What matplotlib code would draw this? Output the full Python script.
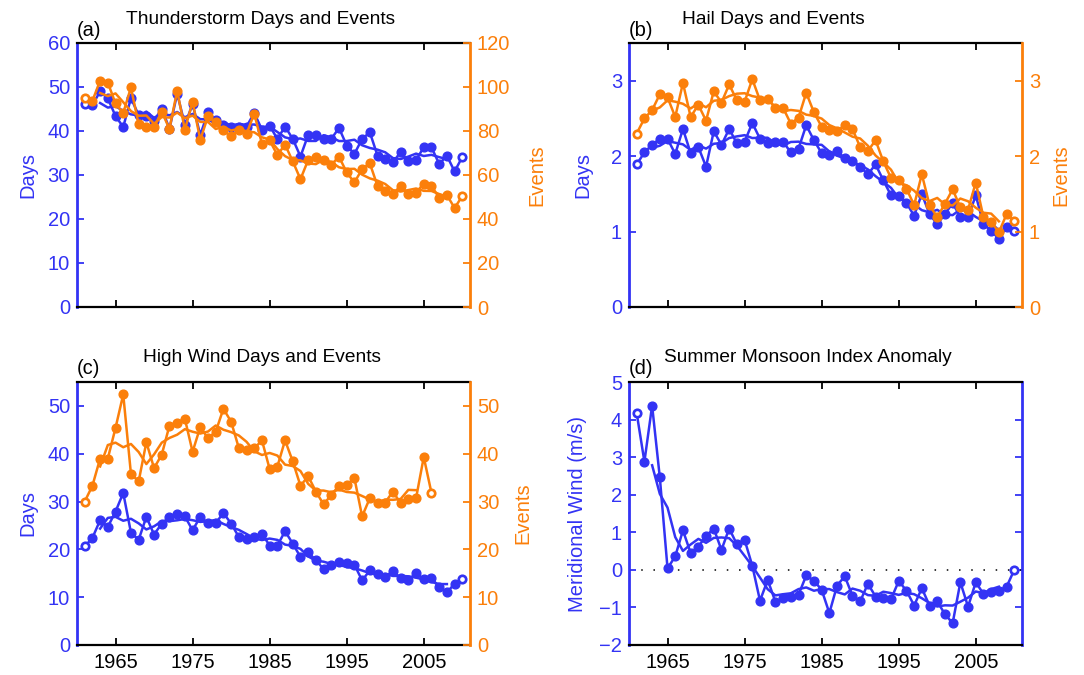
import numpy as np
import pandas as pd
import matplotlib
matplotlib.use('Agg')
import matplotlib.pyplot as plt

plt.rcParams['font.family'] = ['Liberation Sans', 'DejaVu Sans']

# ---------------- data ----------------
years = list(range(1961, 2011))
xticks = [1965, 1975, 1985, 1995, 2005]

thunder_days = [46.1, 45.9, 49.0, 47.4, 43.4, 40.9, 47.5, 43.6, 43.5, 42.3,
                45.1, 40.5, 48.5, 41.4, 46.1, 39.1, 44.3, 42.5, 41.3, 40.8,
                40.8, 41.0, 44.1, 40.3, 41.2, 38.2, 41.0, 38.2, 34.2, 39.1,
                39.0, 38.2, 38.2, 40.7, 36.7, 34.8, 38.2, 39.7, 34.4, 33.6,
                32.9, 35.2, 33.1, 33.4, 36.3, 36.3, 32.5, 34.4, 30.8, 34.1]
thunder_events = [95.2, 93.7, 102.9, 102.0, 92.5, 88.2, 99.8, 83.0, 81.8, 81.9,
                  88.7, 81.0, 98.3, 80.6, 93.3, 76.0, 86.7, 84.1, 80.3, 77.5,
                  80.6, 78.7, 87.9, 74.2, 75.7, 69.1, 73.8, 66.2, 58.1, 66.8,
                  68.3, 66.8, 64.7, 68.3, 61.2, 56.6, 62.7, 65.3, 55.0, 52.7,
                  51.5, 55.0, 51.2, 52.0, 56.1, 55.0, 49.7, 50.9, 45.0, 50.4]

hail_days = [1.89, 2.05, 2.15, 2.23, 2.23, 2.03, 2.36, 2.04, 2.12, 1.86,
             2.33, 2.15, 2.36, 2.17, 2.19, 2.44, 2.23, 2.17, 2.19, 2.19,
             2.05, 2.10, 2.41, 2.21, 2.04, 2.02, 2.07, 1.97, 1.93, 1.86,
             1.76, 1.89, 1.68, 1.48, 1.47, 1.38, 1.21, 1.50, 1.23, 1.10,
             1.23, 1.38, 1.19, 1.19, 1.48, 1.10, 1.01, 0.905, 1.06, 1.01]
hail_events = [2.30, 2.50, 2.61, 2.82, 2.78, 2.52, 2.97, 2.52, 2.68, 2.47,
               2.86, 2.71, 2.95, 2.74, 2.72, 3.02, 2.74, 2.76, 2.64, 2.64,
               2.43, 2.51, 2.84, 2.58, 2.39, 2.35, 2.33, 2.41, 2.36, 2.12,
               2.07, 2.21, 1.93, 1.71, 1.68, 1.57, 1.35, 1.76, 1.35, 1.19,
               1.37, 1.56, 1.32, 1.29, 1.65, 1.19, 1.13, 0.99, 1.23, 1.14]

wind_days = [20.6, 22.4, 26.1, 24.7, 27.9, 31.8, 23.5, 22.0, 26.8, 23.1,
             25.4, 26.8, 27.3, 26.9, 24.0, 26.8, 25.5, 25.5, 27.6, 25.4,
             22.6, 22.2, 22.6, 23.3, 20.8, 20.8, 23.8, 21.2, 18.4, 19.4,
             17.7, 15.9, 16.8, 17.3, 17.1, 16.8, 13.5, 15.6, 14.9, 14.3,
             15.4, 14.0, 13.6, 15.0, 13.8, 14.0, 12.1, 11.0, 12.8, 13.8]
wind_events = [30.0, 33.3, 39.0, 39.0, 45.4, 52.4, 35.8, 34.2, 42.4, 37.0,
               39.8, 45.9, 46.5, 47.3, 40.4, 45.6, 43.2, 44.6, 49.4, 46.7,
               41.2, 40.7, 41.1, 42.8, 36.8, 37.3, 42.8, 38.4, 33.3, 35.3,
               32.1, 29.4, 31.4, 33.3, 33.5, 34.9, 26.9, 30.7, 29.8, 29.8,
               32.1, 29.6, 30.5, 30.7, 39.3, 31.8, np.nan, np.nan, np.nan, np.nan]

monsoon_anom = [4.17, 2.88, 4.37, 2.46, 0.04, 0.36, 1.05, 0.45, 0.62, 0.90,
                1.10, 0.53, 1.10, 0.68, 0.80, 0.11, -0.82, -0.27, -0.85, -0.75,
                -0.71, -0.66, -0.15, -0.29, -0.53, -1.15, -0.42, -0.17, -0.69, -0.84,
                -0.37, -0.71, -0.75, -0.78, -0.30, -0.55, -0.95, -0.49, -0.95, -0.84,
                -1.18, -1.42, -0.33, -0.98, -0.33, -0.64, -0.60, -0.55, -0.45, 0.0]

# ---------------- style ----------------
BLUE = '#3333f4'
ORANGE = '#fb7f0a'
FS = 14.5
W, H = 1084, 675

fig = plt.figure(figsize=(W / 100, H / 100), dpi=100)


def px_axes(l, t, r, b):
    return fig.add_axes([l / W, 1 - b / H, (r - l) / W, (b - t) / H])


def running_mean(vals):
    return pd.Series(vals, dtype=float).rolling(5, center=True).mean().values


def draw_series(ax, vals, color):
    x = np.array(years, dtype=float)
    y = np.array(vals, dtype=float)
    ok = ~np.isnan(y)
    ax.plot(x[ok], y[ok], '-', color=color, lw=1.8, marker='o', ms=6.3,
            mfc=color, mec=color, zorder=3, clip_on=False)
    idx = np.where(ok)[0]
    ends = [idx[0], idx[-1]]
    ax.plot(x[ends], y[ends], 'o', ms=4.8, mfc='white', mec=color, mew=1.4,
            zorder=4, clip_on=False)
    ax.plot(x, running_mean(vals), '-', color=color, lw=1.8, zorder=3)


def base_style(ax, left_color, show_xlabels):
    ax.set_xlim(1960, 2011)
    ax.set_xticks(xticks)
    ax.tick_params(axis='x', direction='in', top=True, bottom=True, length=5,
                   width=1.3, labelsize=FS, pad=6, colors='black')
    if not show_xlabels:
        ax.set_xticklabels([])
    for s in ('top', 'bottom'):
        ax.spines[s].set_linewidth(1.6)
        ax.spines[s].set_color('black')
    ax.spines['left'].set_color(left_color)
    ax.spines['left'].set_linewidth(2.0)
    ax.tick_params(axis='y', direction='in', colors=left_color, labelsize=FS,
                   length=5, width=1.3, pad=5)


def twin_style(ax, ax2, ylim, yticks, label_x):
    ax.spines['right'].set_visible(False)
    for s in ('top', 'bottom', 'left'):
        ax2.spines[s].set_visible(False)
    ax2.spines['right'].set_color(ORANGE)
    ax2.spines['right'].set_linewidth(2.0)
    ax2.set_ylim(*ylim)
    ax2.set_yticks(yticks)
    ax2.tick_params(axis='y', direction='in', colors=ORANGE, labelsize=FS,
                    length=5, width=1.3, pad=5)
    ax2.set_ylabel('Events', color=ORANGE, fontsize=FS)
    ax2.yaxis.set_label_coords(label_x, 0.5)


def panel_text(letter, title, lx, ly, tx, ty):
    fig.text(lx / W, 1 - ly / H, letter, fontsize=FS, ha='left', va='center')
    fig.text(tx / W, 1 - ty / H, title, fontsize=13.8, ha='left', va='center')


# (a) Thunderstorm
axa = px_axes(77, 43, 470, 307)
base_style(axa, BLUE, False)
axa.set_ylim(0, 60)
axa.set_yticks(range(0, 61, 10))
axa.set_ylabel('Days', color=BLUE, fontsize=FS)
axa.yaxis.set_label_coords(-0.10, 0.5)
axa2 = axa.twinx()
twin_style(axa, axa2, (0, 120), range(0, 121, 20), 1.145)
draw_series(axa, thunder_days, BLUE)
draw_series(axa2, thunder_events, ORANGE)
axa2.set_xlim(1960, 2011)
panel_text('(a)', 'Thunderstorm Days and Events', 77, 30, 126, 20)

# (b) Hail
axb = px_axes(629, 43, 1022, 307)
base_style(axb, BLUE, False)
axb.set_ylim(0, 3.5)
axb.set_yticks([0, 1, 2, 3])
axb.set_ylabel('Days', color=BLUE, fontsize=FS)
axb.yaxis.set_label_coords(-0.092, 0.5)
axb2 = axb.twinx()
twin_style(axb, axb2, (0, 3.5), [0, 1, 2, 3], 1.075)
draw_series(axb, hail_days, BLUE)
draw_series(axb2, hail_events, ORANGE)
axb2.set_xlim(1960, 2011)
panel_text('(b)', 'Hail Days and Events', 629, 30, 682, 20)

# (c) High wind
axc = px_axes(77, 382, 470, 645)
base_style(axc, BLUE, True)
axc.set_ylim(0, 55)
axc.set_yticks(range(0, 51, 10))
axc.set_ylabel('Days', color=BLUE, fontsize=FS)
axc.yaxis.set_label_coords(-0.10, 0.5)
axc2 = axc.twinx()
twin_style(axc, axc2, (0, 55), range(0, 51, 10), 1.11)
draw_series(axc, wind_days, BLUE)
draw_series(axc2, wind_events, ORANGE)
axc2.set_xlim(1960, 2011)
panel_text('(c)', 'High Wind Days and Events', 77, 368, 143, 358)

# (d) Monsoon
axd = px_axes(629, 382, 1022, 645)
base_style(axd, BLUE, True)
axd.set_ylim(-2, 5)
axd.set_yticks(range(-2, 6))
axd.spines['right'].set_color(BLUE)
axd.spines['right'].set_linewidth(2.0)
axd.tick_params(axis='y', right=True, labelright=False)
axd.axhline(0, color='black', lw=1.1, linestyle=(0, (1, 7)), zorder=2)
draw_series(axd, monsoon_anom, BLUE)
axd.set_ylabel('Meridional Wind (m/s)', color=BLUE, fontsize=FS)
axd.yaxis.set_label_coords(-0.106, 0.5)
panel_text('(d)', 'Summer Monsoon Index Anomaly', 629, 368, 664, 358)

fig.savefig('out.png', dpi=100)
